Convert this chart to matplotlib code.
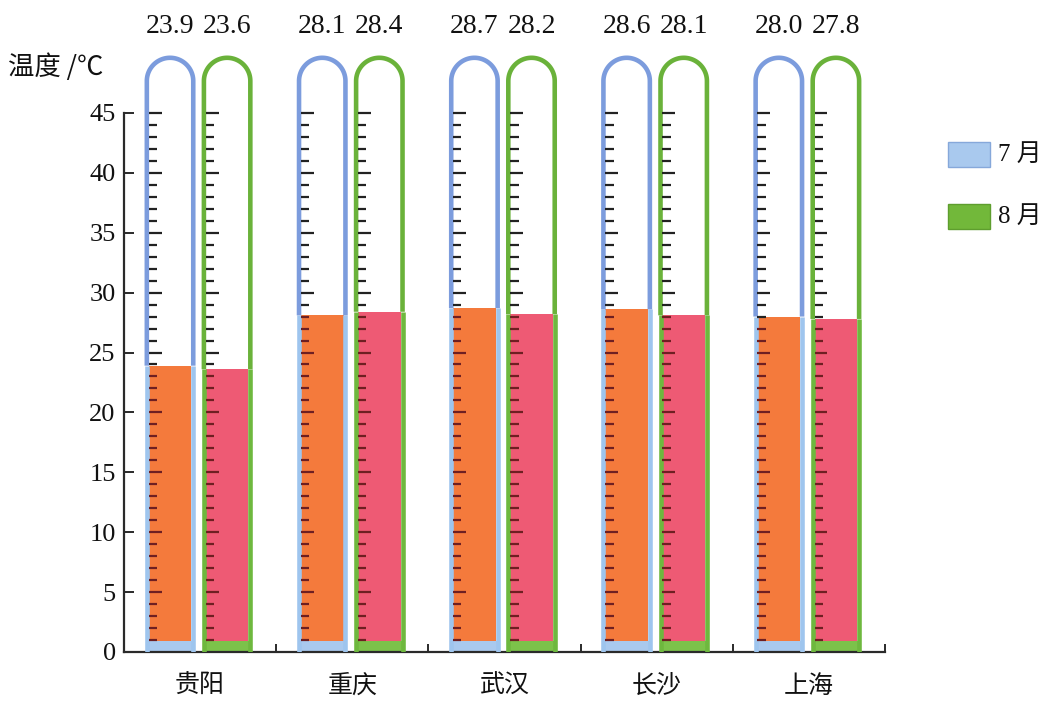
import matplotlib
matplotlib.use("Agg")
import matplotlib.pyplot as plt
from matplotlib.patches import Rectangle
import numpy as np

plt.rcParams['font.family'] = ['Liberation Serif', 'Noto Sans CJK SC', 'DejaVu Sans']

cities = ['贵阳', '重庆', '武汉', '长沙', '上海']
july = [23.9, 28.1, 28.7, 28.6, 28.0]
august = [23.6, 28.4, 28.2, 28.1, 27.8]
series_names = ['7 月', '8 月']
yticks = [0, 5, 10, 15, 20, 25, 30, 35, 40, 45]

W, H = 1064, 707
fig = plt.figure(figsize=(W / 100, H / 100), dpi=100)
ppu = 11.98  # pixels per degree
left_px, bottom_px, right_px = 124, 652, 885
ymax = 53
ax = fig.add_axes([left_px / W, (H - bottom_px) / H, (right_px - left_px) / W, ymax * ppu / H])
ax.set_xlim(0, 5)
ax.set_ylim(0, ymax)

spine_c = '#2a2a2a'
txt_c = '#111111'
for s in ['top', 'right']:
    ax.spines[s].set_visible(False)
ax.spines['left'].set_bounds(0, 45)
ax.spines['bottom'].set_bounds(0, 5)
for s in ['left', 'bottom']:
    ax.spines[s].set_color(spine_c)
    ax.spines[s].set_linewidth(1.6)
ax.set_yticks(yticks)
ax.set_yticklabels([str(v) for v in yticks], fontsize=19, color=txt_c)
ax.tick_params(axis='y', direction='in', length=7, width=1.4, color=spine_c, pad=6)
ax.set_xticks([1, 2, 3, 4, 5])
ax.set_xticklabels([])
ax.tick_params(axis='x', direction='in', length=6, width=1.4, color=spine_c)

styles = [
    dict(edge='#7C9CDD', edge_low='#9EC5EE', base='#A9C9EE', fill='#F47A3C', off=(0.15, 0.455)),
    dict(edge='#6AB23A', edge_low='#6EB83E', base='#7CC24A', fill='#EE5A74', off=(0.525, 0.83)),
]
lw = 3.3
line_half = 0.012
px_per_x = (right_px - left_px) / 5.0
theta = np.linspace(np.pi, 0, 60)
for gi in range(len(cities)):
    for si, vals in enumerate([july, august]):
        st = styles[si]
        v = vals[gi]
        x0 = gi + st['off'][0]
        x1 = gi + st['off'][1]
        w = x1 - x0
        r_px = w * px_per_x / 2
        arc_cy = 49.6 - r_px / ppu
        cx = (x0 + x1) / 2
        # base block
        ax.add_patch(Rectangle((x0, 0), w, 0.9, facecolor=st['base'], edgecolor='none', zorder=2))
        # fill
        ax.add_patch(Rectangle((x0 + line_half, 0.9), w - 2 * line_half, v - 0.9,
                               facecolor=st['fill'], edgecolor='none', zorder=2))
        # lower side lines (inside liquid)
        for xx in (x0, x1):
            ax.plot([xx, xx], [0, v], color=st['edge_low'], lw=lw, solid_capstyle='butt', zorder=3)
        # upper outline: side, round top, side as one line
        ox = np.concatenate([[x0], cx + (w / 2) * np.cos(theta), [x1]])
        oy = np.concatenate([[v], arc_cy + (r_px / ppu) * np.sin(theta), [v]])
        ax.plot(ox, oy, color=st['edge'], lw=lw, solid_capstyle='butt',
                solid_joinstyle='round', zorder=3, clip_on=False)
        # scale ticks
        for t in range(1, 46):
            L = 0.085 if t % 5 == 0 else 0.055
            c = '#6e1f22' if t < v else '#222222'
            ax.plot([x0 + line_half, x0 + line_half + L], [t, t], color=c, lw=1.6,
                    solid_capstyle='butt', zorder=4)
        # value label
        ax.text(cx, 52.2, f'{v:.1f}', ha='center', va='center', fontsize=20,
                color=txt_c, clip_on=False)
    ax.text(gi + 0.5, -2.8, cities[gi], ha='center', va='center', fontsize=18,
            family=['Noto Sans CJK SC'], color=txt_c, clip_on=False)

# y axis label
ax.text(-0.76, 48.8, '温度 /℃', ha='left', va='center', fontsize=19,
        family=['Noto Sans CJK SC', 'DejaVu Sans'], color=txt_c, clip_on=False)

# legend
leg = [(142, styles[0]['base'], '#86A8DA'), (204, '#72B83A', '#5E9E2E')]
for (ytop, fc, ec), name in zip(leg, series_names):
    fig.add_artist(Rectangle((948 / W, 1 - (ytop + 25) / H), 42 / W, 25 / H,
                             facecolor=fc, edgecolor=ec, lw=1.0, transform=fig.transFigure))
    fig.text(998 / W, 1 - (ytop + 12.5) / H, name, ha='left', va='center', fontsize=18,
             family=['Liberation Serif', 'Noto Sans CJK SC'], color=txt_c)

fig.savefig('out.png', dpi=100)
